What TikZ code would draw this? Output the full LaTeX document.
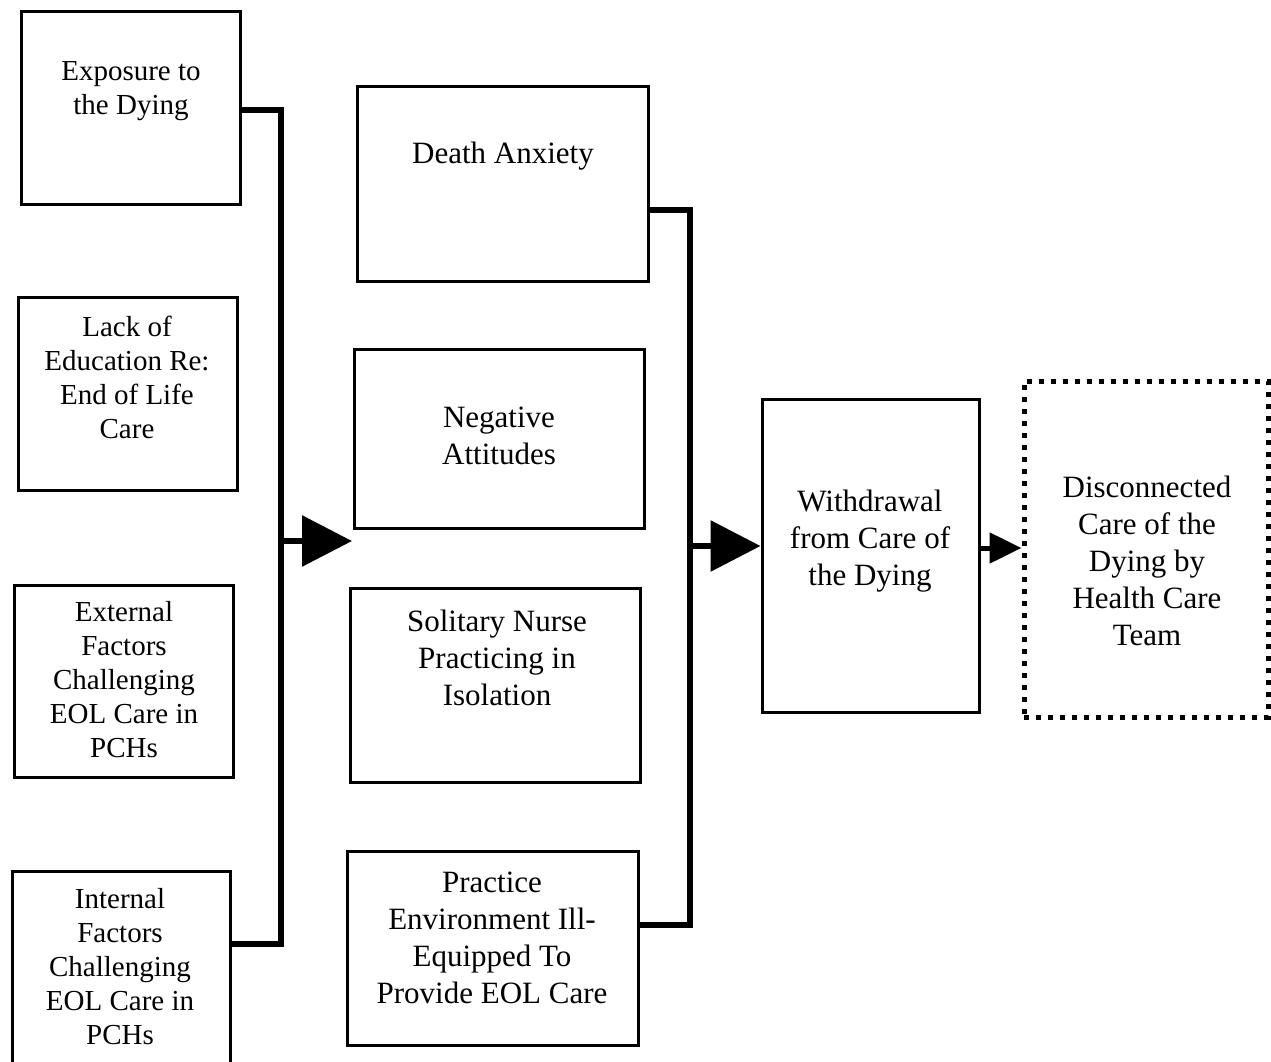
\documentclass[tikz,border=0pt]{standalone}
\usepackage{fontspec}
\setmainfont{Liberation Serif}
\usetikzlibrary{arrows.meta}
\begin{document}
\begin{tikzpicture}[x=1pt,y=-1pt,
  box/.style={draw=black,line width=3pt,rectangle,inner sep=0pt},
  dotbox/.style={draw=black,line width=5pt,dash pattern=on 5pt off 7pt,rectangle,inner sep=0pt},
  ltxt/.style={align=center,inner sep=0pt,font=\fontsize{29}{34}\selectfont},
  mtxt/.style={align=center,inner sep=0pt,font=\fontsize{31}{37}\selectfont},
  conn/.style={draw=black,line width=6pt},
  bigarrow/.style={conn,-{Triangle[length=50pt,width=50pt]}},
  smallarrow/.style={draw=black,line width=5pt,-{Triangle[length=32pt,width=30pt]}}
]
\useasboundingbox (0,0) rectangle (1271,1062);
% left column
\node[box,minimum width=219pt,minimum height=192pt] (b1) at (130.5,108) {};
\node[box,minimum width=219pt,minimum height=193pt] (b2) at (127.5,393.5) {};
\node[box,minimum width=219pt,minimum height=192pt] (b3) at (123.5,681) {};
\node[box,minimum width=218pt,minimum height=204pt] (b4) at (121,973) {};
\node[ltxt] (t1) at (131,91) {Exposure to\\the Dying};
\node[ltxt] (t2) at (127,377) {Lack of\\Education Re:\\End of Life\\Care};
\node[ltxt] (t3) at (124,680) {External\\Factors\\Challenging\\EOL Care in\\PCHs};
\node[ltxt] (t4) at (120,967) {Internal\\Factors\\Challenging\\EOL Care in\\PCHs};
% middle column
\node[box,minimum width=291pt,minimum height=194pt] (bA) at (502.5,184) {};
\node[box,minimum width=290pt,minimum height=179pt] (bB) at (499,438.5) {};
\node[box,minimum width=290pt,minimum height=194pt] (bC) at (495,685) {};
\node[box,minimum width=291pt,minimum height=194pt] (bD) at (492.5,948) {};
\node[mtxt] (tA) at (503,156) {Death Anxiety};
\node[mtxt] (tB) at (499,436) {Negative\\Attitudes};
\node[mtxt] (tC) at (497,658) {Solitary Nurse\\Practicing in\\Isolation};
\node[mtxt] (tD) at (492,938) {Practice\\Environment Ill-\\Equipped To\\Provide EOL Care};
% right
\node[box,minimum width=217pt,minimum height=313pt] (bW) at (870.5,555.5) {};
\node[mtxt] (tW) at (870,541) {Withdrawal\\from Care of\\the Dying};
\node[dotbox,minimum width=244pt,minimum height=336pt] (bX) at (1146,549) {};
\node[mtxt] (tX) at (1147,561) {Disconnected\\Care of the\\Dying by\\Health Care\\Team};
% coordinates
\coordinate (lbus) at (281,541);
\coordinate (tip1) at (352,541);
\coordinate (mbus) at (690,546);
% left bus
\draw[conn,line join=miter] (b1.east |- 0,110) -- (281,110) -- (281,944) -- (b4.east |- 0,944);
\draw[bigarrow] (lbus) -- (tip1);
% middle bus
\draw[conn,line join=miter] (bA.east |- 0,210) -- (690,210) -- (690,925) -- (bD.east |- 0,925);
\draw[bigarrow] (mbus) -- (bW.west |- mbus);
% right arrow
\draw[smallarrow] (bW.east |- 0,548) -- (bX.west |- 0,548);
\end{tikzpicture}
\end{document}
